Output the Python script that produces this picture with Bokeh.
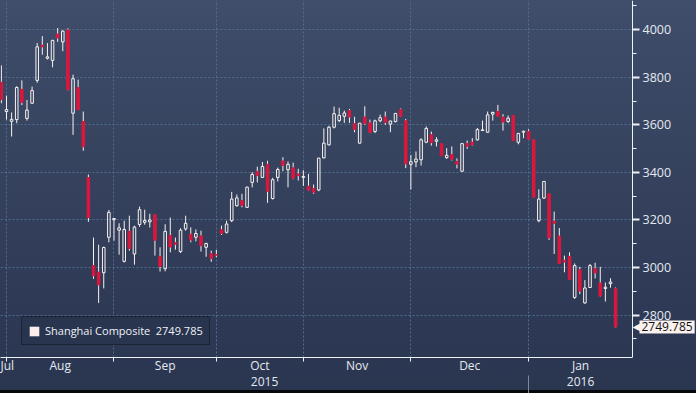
import numpy as np
import pandas as pd
from bokeh.plotting import figure
from bokeh.models import (ColumnDataSource, Range1d, FixedTicker, LinearAxis, Grid,
                          Legend, LegendItem, Label, CustomJSTickFormatter)
from bokeh.embed import file_html
from bokeh.resources import INLINE

# ---------------- data (Shanghai Composite, daily OHLC) ----------------
holidays = ["2015-09-03", "2015-09-04", "2015-10-01", "2015-10-02", "2015-10-05",
            "2015-10-06", "2015-10-07", "2016-01-01"]
dates = [d for d in pd.bdate_range("2015-07-30", "2016-01-26")
         if d.strftime("%Y-%m-%d") not in holidays]

opens = [
    3779, 3656,
    3615, 3622, 3749, 3627, 3691, 3787, 3935, 3880, 3871, 3982, 3949, 3999, 3649, 3756, 3614, 3378, 3008, 2981, 2978, 3127, 3201,
    3157, 3026, 3152, 3057, 3181, 3190, 3192, 3222, 3045, 2995, 3134, 3104, 3067, 3162, 3140, 3127, 3133, 3085, 3058, 3055,
    3159, 3148, 3197, 3260, 3281, 3253, 3358, 3403, 3379, 3434, 3290, 3379, 3448, 3411, 3419, 3393, 3379,
    3342, 3332, 3326, 3461, 3516, 3590, 3618, 3636, 3660, 3605, 3523, 3633, 3608, 3572, 3617, 3633, 3603, 3614, 3664, 3617, 3434,
    3444, 3453, 3527, 3558, 3531, 3521, 3462, 3475, 3446, 3405, 3521, 3527, 3537, 3576, 3569, 3645, 3656, 3633, 3614, 3639, 3527, 3569, 3572,
    3537, 3197, 3292, 3310, 3195, 3132, 3030, 3046, 2874, 2991, 2851, 2916, 2995, 2935, 2912, 2932, 2911,
]
highs = [
    3850, 3723,
    3652, 3762, 3787, 3705, 3761, 3944, 3973, 3944, 3958, 4007, 3998, 4006, 3811, 3790, 3656, 3391, 3126, 3096, 3088, 3242, 3208,
    3186, 3197, 3218, 3176, 3256, 3243, 3226, 3224, 3085, 3182, 3210, 3126, 3165, 3218, 3169, 3160, 3155, 3104, 3071, 3074,
    3176, 3197, 3318, 3307, 3310, 3340, 3401, 3424, 3444, 3449, 3377, 3420, 3464, 3446, 3441, 3415, 3409,
    3394, 3349, 3461, 3585, 3596, 3677, 3672, 3660, 3667, 3634, 3608, 3678, 3622, 3622, 3643, 3656, 3618, 3650, 3669, 3625, 3473,
    3488, 3544, 3593, 3572, 3548, 3523, 3502, 3509, 3459, 3524, 3534, 3544, 3587, 3618, 3656, 3656, 3684, 3645, 3639, 3641, 3566, 3576, 3581,
    3539, 3329, 3363, 3310, 3235, 3166, 3050, 3064, 3017, 3003, 2947, 3015, 3020, 3003, 2937, 2955, 2916,
]
lows = [
    3691, 3622,
    3551, 3607, 3683, 3618, 3688, 3777, 3895, 3875, 3842, 3949, 3910, 3745, 3558, 3663, 3491, 3192, 2952, 2851, 2912, 3106, 3113,
    3054, 3021, 3071, 3012, 3171, 3180, 3168, 3050, 2983, 2984, 3064, 3075, 3061, 3155, 3106, 3110, 3067, 3045, 3024, 3043,
    3137, 3143, 3191, 3256, 3253, 3250, 3337, 3358, 3377, 3272, 3286, 3362, 3405, 3337, 3371, 3366, 3343,
    3322, 3310, 3321, 3459, 3513, 3585, 3611, 3608, 3608, 3569, 3521, 3600, 3565, 3565, 3611, 3600, 3569, 3610, 3633, 3418, 3328,
    3422, 3429, 3523, 3513, 3509, 3469, 3457, 3450, 3417, 3402, 3499, 3513, 3534, 3575, 3567, 3618, 3634, 3576, 3608, 3533, 3518, 3544, 3539,
    3295, 3190, 3288, 3116, 3057, 3016, 2980, 2949, 2868, 2888, 2848, 2914, 2954, 2878, 2857, 2915, 2748,
]
closes = [
    3706, 3664,
    3623, 3757, 3695, 3662, 3744, 3928, 3928, 3886, 3955, 3965, 3994, 3748, 3794, 3664, 3508, 3210, 2965, 2927, 3084, 3232, 3206,
    3167, 3160, 3080, 3170, 3243, 3198, 3200, 3115, 3005, 3152, 3086, 3098, 3157, 3186, 3116, 3143, 3092, 3101, 3038, 3052,
    3143, 3183, 3288, 3293, 3262, 3338, 3391, 3387, 3425, 3321, 3369, 3412, 3430, 3434, 3375, 3387, 3383,
    3325, 3317, 3460, 3523, 3590, 3647, 3640, 3650, 3633, 3581, 3607, 3605, 3568, 3617, 3630, 3610, 3616, 3648, 3636, 3436, 3445,
    3456, 3537, 3585, 3525, 3537, 3470, 3472, 3455, 3435, 3521, 3510, 3516, 3580, 3579, 3642, 3652, 3636, 3612, 3628, 3534, 3564, 3573, 3539,
    3296, 3288, 3362, 3125, 3186, 3017, 3023, 2950, 3008, 2901, 2914, 3008, 2977, 2880, 2917, 2939, 2749.785,
]
series_name = "Shanghai Composite"
y_major = [2800, 3000, 3200, 3400, 3600, 3800, 4000]
y_minor = [2700, 2900, 3100, 3300, 3500, 3700, 3900, 4100]

# ---------------- derived ----------------
n = len(dates)
x = np.arange(n)
o = np.array(opens, float); h = np.array(highs, float)
l = np.array(lows, float); c = np.array(closes, float)
body_top = np.maximum(o, c); body_bot = np.minimum(o, c)
up = c >= o
last = closes[-1]
last_txt = f"{last:.3f}"

W, H = 696, 393
PLOT_W = 632                       # width of the price area; the value axis sits at its right edge
x_start, x_axis_end = -0.17, n + 2.3
x_frame_end = x_start + (x_axis_end - x_start) * W / PLOT_W
y_start, y_end = 2621.5, 4123.0

# month boundaries = last trading day of each month
bounds = [i for i in range(n - 1) if dates[i].month != dates[i + 1].month]
month_pos = [float(bounds[0])]
month_lab = [dates[bounds[0]].strftime("%b")]
edges = bounds + [x_axis_end]
for k in range(len(bounds)):
    month_pos.append((edges[k] + edges[k + 1]) / 2)
    month_lab.append(dates[bounds[k] + 1].strftime("%b"))
ybounds = [i for i in range(n - 1) if dates[i].year != dates[i + 1].year]
yedges = [x_start] + ybounds + [x_axis_end]
year_pos = [(yedges[k] + yedges[k + 1]) / 2 for k in range(len(yedges) - 1)]
year_lab = [str(dates[0].year + k) for k in range(len(year_pos))]

src = ColumnDataSource(dict(x=x, h=h, l=l, top=body_top, bot=body_bot))
up_src = ColumnDataSource(dict(x=x[up], top=body_top[up], bot=body_bot[up]))
dn_src = ColumnDataSource(dict(x=x[~up], top=body_top[~up], bot=body_bot[~up]))

# ---------------- figure ----------------
FONT = "Open Sans"
LIGHT = "#e4e9f0"
AX = "#eef2f6"
GRID = "#4e6e8e"
p = figure(width=W, height=H, output_backend="svg", toolbar_location=None,
           x_range=Range1d(x_start, x_frame_end), y_range=Range1d(y_start, y_end),
           y_axis_location="right",
           min_border_left=0, min_border_top=0, min_border_right=0, min_border_bottom=36)
p.border_fill_alpha = 0
p.background_fill_alpha = 0
p.outline_line_color = None
p.styles = {"background": "linear-gradient(to bottom, #404e6b 0%, #3c4a67 12%, #384561 33%, "
                          "#333f5b 55%, #2e3a55 80%, #2a3550 99.2%, #05070a 99.2%, #05070a 100%)"}

# grids
p.xgrid.ticker = FixedTicker(ticks=bounds)
xg = p.xgrid[0]
xg.grid_line_color = GRID
xg.grid_line_dash = "2 2"
yg = p.ygrid[0]
yg.ticker = FixedTicker(ticks=y_major)
if "cross_bounds" in Grid.properties():
    yg.cross_bounds = (x_start, x_axis_end)
    yg.grid_line_color = GRID
    yg.grid_line_dash = "2 2"
else:
    yg.visible = False
    p.segment(x0=x_start, x1=x_axis_end, y0=y_major, y1=y_major,
              line_color=GRID, line_dash="2 2", line_width=1)

# candles
WHITE = "#f8f2f0"
RED = "#db173d"
p.segment(x0="x", y0="h", x1="x", y1="top", source=src, line_color=WHITE, line_width=1)
p.segment(x0="x", y0="bot", x1="x", y1="l", source=src, line_color=WHITE, line_width=1)
p.vbar(x="x", width=0.5, top="top", bottom="bot", source=dn_src,
       fill_color=RED, line_color=RED, line_width=1)
p.vbar(x="x", width=0.5, top="top", bottom="bot", source=up_src,
       fill_alpha=0, line_color=WHITE, line_width=1)

# value axis, pinned to the right edge of the price area
ya = p.yaxis[0]
ya.fixed_location = x_axis_end
ya.ticker = FixedTicker(ticks=y_major, minor_ticks=y_minor)
ya.axis_line_color = AX
ya.major_tick_line_color = AX
ya.major_tick_line_width = 2
ya.major_tick_out = 7
ya.major_tick_in = 0
ya.minor_tick_line_color = AX
ya.minor_tick_out = 4
ya.minor_tick_in = 0
ya.major_label_text_color = LIGHT
ya.major_label_text_font = FONT
ya.major_label_text_font_size = "12.5px"
ya.major_label_standoff = 3

fmt_code = """
let best = ''; let d = 1e9;
for (let k = 0; k < pos.length; k++) {
  const dd = Math.abs(pos[k] - tick);
  if (dd < d) { d = dd; best = lab[k]; }
}
return best;
"""
# month axis
xa = p.xaxis[0]
xa.bounds = (x_start, x_axis_end)
xa.ticker = FixedTicker(ticks=month_pos, minor_ticks=bounds)
xa.formatter = CustomJSTickFormatter(args=dict(pos=month_pos, lab=month_lab), code=fmt_code)
xa.axis_line_color = AX
xa.major_tick_line_color = None
xa.major_tick_out = 0
xa.major_tick_in = 0
xa.minor_tick_line_color = AX
xa.minor_tick_out = 4
xa.minor_tick_in = 0
xa.major_label_text_color = LIGHT
xa.major_label_text_font = FONT
xa.major_label_text_font_size = "12px"
xa.major_label_standoff = -5

# year axis
yr = LinearAxis(ticker=FixedTicker(ticks=year_pos, minor_ticks=ybounds),
                formatter=CustomJSTickFormatter(args=dict(pos=year_pos, lab=year_lab), code=fmt_code))
yr.axis_line_color = None
yr.major_tick_line_color = None
yr.major_tick_out = 0
yr.major_tick_in = 0
yr.minor_tick_line_color = "#7d8898"
yr.minor_tick_out = 17
yr.minor_tick_in = 1
yr.major_label_text_color = LIGHT
yr.major_label_text_font = FONT
yr.major_label_text_font_size = "12px"
yr.major_label_standoff = -17
p.add_layout(yr, "below")

# legend
dummy = p.quad(left=np.array([np.nan]), right=np.array([np.nan]),
               top=np.array([np.nan]), bottom=np.array([np.nan]),
               fill_color="#fbefed", line_color=None)
legend = Legend(items=[LegendItem(label=f"{series_name}\u2002{last_txt}", renderers=[dummy])],
                location=(21, 12))
legend.background_fill_color = "#29344e"
legend.background_fill_alpha = 1
legend.border_line_color = "#0c1018"
legend.border_line_width = 1
legend.label_text_color = "#eef2f7"
legend.label_text_font = FONT
legend.label_text_font_size = "11px"
legend.glyph_width = 12
legend.glyph_height = 12
legend.label_height = 14
legend.label_standoff = 5
legend.padding = 6
legend.margin = 0
p.add_layout(legend)

# last value tag
TAG = "#fbf1ee"
tip = Label(x=x_axis_end, y=last, x_units="data", y_units="data", x_offset=0,
            text="\u25c0", text_color=TAG, text_font="DejaVu Sans", text_font_size="10px",
            text_baseline="middle", text_align="left")
tag = Label(x=x_axis_end, y=last, x_units="data", y_units="data", x_offset=7,
            text=last_txt, text_color="#111111", text_font=FONT,
            text_font_size="12px", text_baseline="middle", text_align="left",
            background_fill_color=TAG, padding=2)
p.add_layout(tip)
p.add_layout(tag)

open("out.html", "w").write(file_html(p, INLINE))
